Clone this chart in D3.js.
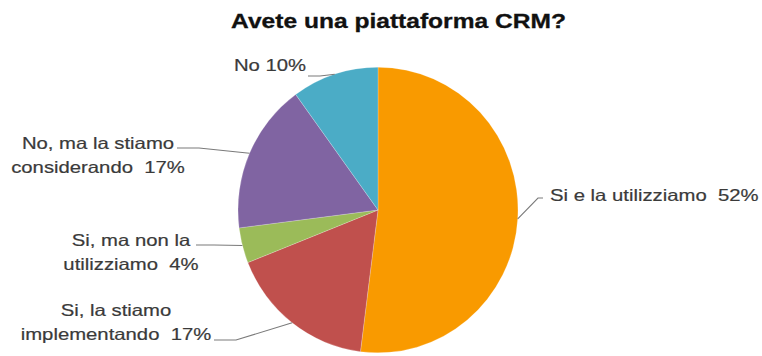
<!DOCTYPE html>
<html>
<head>
<meta charset="utf-8">
<script src="https://cdn.jsdelivr.net/npm/d3@7"></script>
<style>
  html, body { margin: 0; padding: 0; background: #fff; }
  svg { display: block; }
  text { font-family: "Liberation Sans", Arial, sans-serif; white-space: pre; }
</style>
</head>
<body>
<svg id="chart" width="762" height="356"></svg>
<script>
// Survey answers, in clockwise order starting at 12 o'clock
const categories = [
  "Si e la utilizziamo",
  "Si, la stiamo implementando",
  "Si, ma non la utilizziamo",
  "No, ma la stiamo considerando",
  "No"
];
const values = [52, 17, 4, 17, 10];
const colors = ["#F99A00", "#C0504D", "#9BBB59", "#8064A2", "#4BACC6"];
// Label lines as printed beside each slice
const labelLines = [
  ["Si e la utilizziamo  52%"],
  ["Si, la stiamo", "implementando  17%"],
  ["Si, ma non la", "utilizziamo  4%"],
  ["No, ma la stiamo", "considerando  17%"],
  ["No 10%"]
];
const title = "Avete una piattaforma CRM?";

const svg = d3.select("#chart");
const cx = 378, cy = 210, R = 140, yStretch = 1.02;
const textScaleX = 1.23;

// Title
svg.append("g")
  .attr("transform", `translate(398.5,28) scale(1.26,1)`)
  .append("text")
  .attr("text-anchor", "middle")
  .attr("font-size", 19.5)
  .attr("font-weight", "bold")
  .attr("fill", "#111")
  .attr("stroke", "#111")
  .attr("stroke-width", 0.3)
  .text(title);

const data = categories.map((c, i) => ({ category: c, value: values[i], color: colors[i], lines: labelLines[i] }));

const pie = d3.pie().value(d => d.value).sort(null).startAngle(0).endAngle(2 * Math.PI);
const arcs = pie(data);
const arc = d3.arc().innerRadius(0).outerRadius(R);

const pieG = svg.append("g").attr("transform", `translate(${cx},${cy}) scale(1,${yStretch})`);
pieG.selectAll("path.slice")
  .data(arcs)
  .join("path")
  .attr("class", "slice")
  .attr("d", arc)
  .attr("fill", d => d.data.color)
  .attr("stroke", "rgba(255,255,255,0.3)")
  .attr("stroke-width", 0.7);

// Label placement: anchor x of the text block, first baseline
const labelLayout = [
  { x: 550, y: 201, anchor: "start" },
  { x: 116, y: 316, anchor: "middle" },
  { x: 131, y: 246, anchor: "middle" },
  { x: 98,  y: 149, anchor: "middle" },
  { x: 270, y: 71,  anchor: "middle" }
];
const lineH = 24;
// Leader line start points (next to the text) and elbow offsets
const leaderStart = [
  { x: 543, y: 198, elbow: -5 },
  { x: 214, y: 340, elbow: 22 },
  { x: 196, y: 245, elbow: 18 },
  { x: 177, y: 148, elbow: 22 },
  { x: 308, y: 76,  elbow: 12 }
];

const edgeArc = d3.arc().innerRadius(R).outerRadius(R);

arcs.forEach((a, i) => {
  const [ex, ey] = edgeArc.centroid(a);
  const px = cx + ex, py = cy + ey * yStretch;
  const s = leaderStart[i];
  const pts = [[s.x, s.y], [s.x + s.elbow, s.y], [px, py]];
  svg.append("path")
    .attr("d", d3.line()(pts))
    .attr("fill", "none")
    .attr("stroke", "#7a7a7a")
    .attr("stroke-width", 1.1);

  const L = labelLayout[i];
  a.data.lines.forEach((t, k) => {
    svg.append("g")
      .attr("transform", `translate(${L.x},${L.y + k * lineH}) scale(${textScaleX},1)`)
      .append("text")
      .attr("text-anchor", L.anchor)
      .attr("font-size", 16.5)
      .attr("fill", "#3a3a3a")
      .attr("stroke", "#3a3a3a")
      .attr("stroke-width", 0.2)
      .text(t);
  });
});
</script>
</body>
</html>
